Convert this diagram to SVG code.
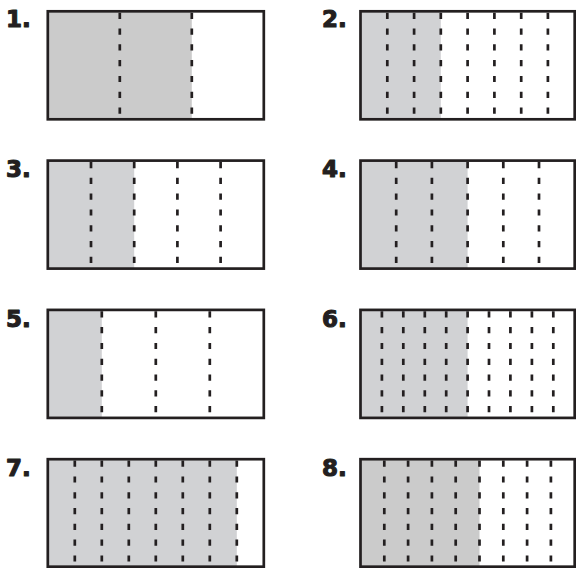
<svg xmlns="http://www.w3.org/2000/svg" width="576" height="568" viewBox="0 0 576 568">
<style>
.sh{fill:#d1d2d4}
.sh2{fill:#cbcbcb}
.fr{fill:none;stroke:#231f20;stroke-width:2.7}
.dl{fill:none;stroke:#231f20;stroke-width:2.7;stroke-dasharray:6.2 9.6}
.lb{font-family:"DejaVu Sans","Liberation Sans",sans-serif;font-weight:bold;font-size:23px;fill:#231f20;stroke:#231f20;stroke-width:1.1;stroke-linejoin:round}
</style>
<rect width="576" height="568" fill="#ffffff"/>
<g id="n1">
<text class="lb" x="6" y="27">1.</text>
<rect class="sh2" x="47.8" y="11.3" width="144" height="108"/>
<path class="dl" d="M119.8 12.7V118M191.8 12.7V118"/>
<rect class="fr" x="47.8" y="11.3" width="216" height="108"/>
</g>
<g id="n2">
<text class="lb" x="322" y="27">2.</text>
<rect class="sh" x="360.5" y="11.3" width="80.3" height="108"/>
<path class="dl" d="M387.3 12.7V118M414.1 12.7V118M440.8 12.7V118M467.6 12.7V118M494.4 12.7V118M521.2 12.7V118M547.9 12.7V118"/>
<rect class="fr" x="360.5" y="11.3" width="214.2" height="108"/>
</g>
<g id="n3">
<text class="lb" x="6" y="177">3.</text>
<rect class="sh" x="47.8" y="160.6" width="86.4" height="108"/>
<path class="dl" d="M91 162V267.3M134.2 162V267.3M177.4 162V267.3M220.6 162V267.3"/>
<rect class="fr" x="47.8" y="160.6" width="216" height="108"/>
</g>
<g id="n4">
<text class="lb" x="322" y="177">4.</text>
<rect class="sh" x="360.5" y="160.6" width="107.1" height="108"/>
<path class="dl" d="M396.2 162V267.3M431.9 162V267.3M467.6 162V267.3M503.3 162V267.3M539 162V267.3"/>
<rect class="fr" x="360.5" y="160.6" width="214.2" height="108"/>
</g>
<g id="n5">
<text class="lb" x="6" y="327">5.</text>
<rect class="sh" x="47.8" y="309.9" width="54" height="108"/>
<path class="dl" d="M101.8 311.3V416.6M155.8 311.3V416.6M209.8 311.3V416.6"/>
<rect class="fr" x="47.8" y="309.9" width="216" height="108"/>
</g>
<g id="n6">
<text class="lb" x="322" y="327">6.</text>
<rect class="sh" x="360.5" y="309.9" width="107.1" height="108"/>
<path class="dl" d="M381.9 311.3V416.6M403.3 311.3V416.6M424.8 311.3V416.6M446.2 311.3V416.6M467.6 311.3V416.6M489 311.3V416.6M510.4 311.3V416.6M531.9 311.3V416.6M553.3 311.3V416.6"/>
<rect class="fr" x="360.5" y="309.9" width="214.2" height="108"/>
</g>
<g id="n7">
<text class="lb" x="6" y="476">7.</text>
<rect class="sh" x="47.8" y="459.2" width="189" height="108"/>
<path class="dl" d="M74.8 460.6V565.9M101.8 460.6V565.9M128.8 460.6V565.9M155.8 460.6V565.9M182.8 460.6V565.9M209.8 460.6V565.9M236.8 460.6V565.9"/>
<rect class="fr" x="47.8" y="459.2" width="216" height="107.5"/>
</g>
<g id="n8">
<text class="lb" x="322" y="476">8.</text>
<rect class="sh2" x="360.5" y="459.2" width="119" height="108"/>
<path class="dl" d="M384.3 460.6V565.9M408.1 460.6V565.9M431.9 460.6V565.9M455.7 460.6V565.9M479.5 460.6V565.9M503.3 460.6V565.9M527.1 460.6V565.9M550.9 460.6V565.9"/>
<rect class="fr" x="360.5" y="459.2" width="214.2" height="107.5"/>
</g>
<g id="connectors"></g>
</svg>
